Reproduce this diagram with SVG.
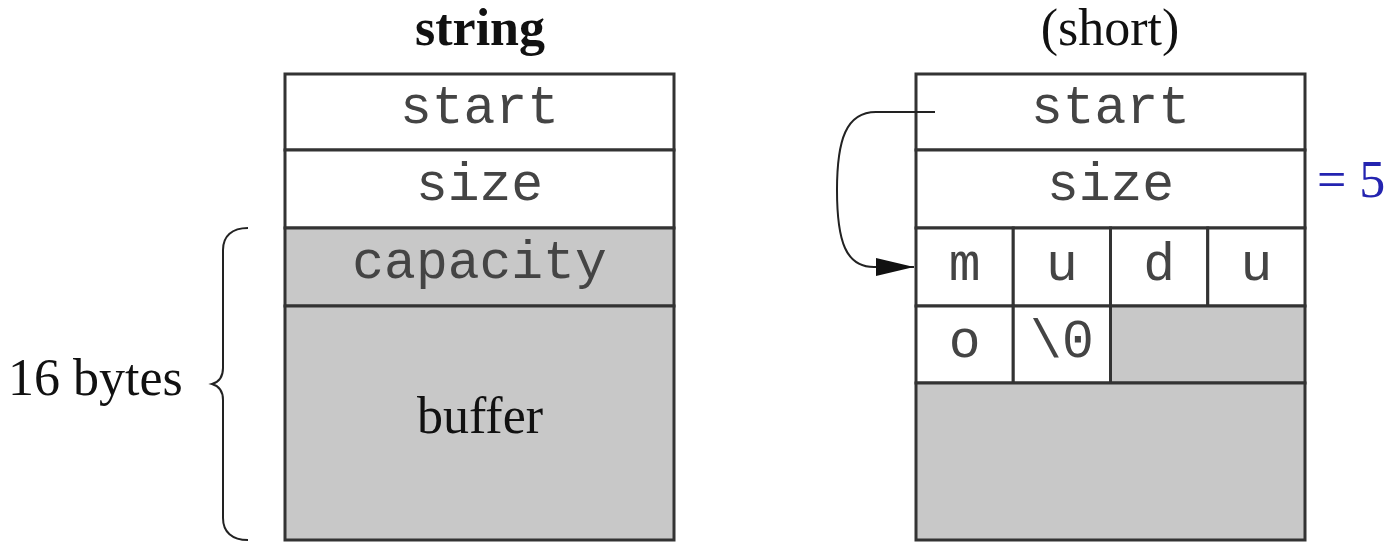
<svg xmlns="http://www.w3.org/2000/svg" width="1394" height="548" viewBox="0 0 1394 548">
<style>
.cell{stroke:#333;stroke-width:3}
.w{fill:#fff}
.g{fill:#c8c8c8}
.mono{font-family:"Liberation Mono","Courier New",monospace;font-size:53px;fill:#444;text-anchor:middle}
.serif{font-family:"Liberation Serif","Times New Roman",serif;font-size:52px;fill:#111}
.conn{fill:none;stroke:#222;stroke-width:2}
</style>
<defs>
<marker id="ah" markerUnits="userSpaceOnUse" markerWidth="40" markerHeight="22" refX="38" refY="11" orient="auto">
<path d="M0,2 L38,11 L0,20 Z" fill="#111"/>
</marker>
</defs>
<rect width="1394" height="548" fill="#fff"/>
<text class="serif" x="480" y="45" text-anchor="middle" font-weight="bold">string</text>
<text class="serif" x="1110" y="45" text-anchor="middle">(short)</text>

<g id="left-string">
<rect class="cell w" x="285" y="74" width="389" height="76"/>
<text class="mono" x="479.5" y="123">start</text>
<rect class="cell w" x="285" y="150" width="389" height="78"/>
<text class="mono" x="479.5" y="200">size</text>
<rect class="cell g" x="285" y="228" width="389" height="78"/>
<text class="mono" x="479.5" y="278">capacity</text>
<rect class="cell g" x="285" y="306" width="389" height="234"/>
<text class="serif" x="480" y="433" text-anchor="middle">buffer</text>
</g>

<g id="brace">
<path class="conn" d="M248,228 C232,228 223,236 223,250 L223,368 C223,377 219,382 212,384 C219,386 223,391 223,400 L223,518 C223,532 232,540 248,540"/>
<text class="serif" x="8" y="395">16 bytes</text>
</g>

<g id="right-short">
<rect class="cell w" x="916" y="74" width="389" height="76"/>
<text class="mono" x="1110.5" y="123">start</text>
<rect class="cell w" x="916" y="150" width="389" height="78"/>
<text class="mono" x="1110.5" y="200">size</text>
<rect class="cell w" x="916" y="228" width="97.25" height="78"/>
<text class="mono" x="964.6" y="280">m</text>
<rect class="cell w" x="1013.25" y="228" width="97.25" height="78"/>
<text class="mono" x="1061.9" y="280">u</text>
<rect class="cell w" x="1110.5" y="228" width="97.25" height="78"/>
<text class="mono" x="1159.1" y="280">d</text>
<rect class="cell w" x="1207.75" y="228" width="97.25" height="78"/>
<text class="mono" x="1256.4" y="280">u</text>
<rect class="cell w" x="916" y="306" width="97.25" height="77"/>
<text class="mono" x="964.6" y="357">o</text>
<rect class="cell w" x="1013.25" y="306" width="97.25" height="77"/>
<text class="mono" x="1061.9" y="357">\0</text>
<rect class="cell g" x="1110.5" y="306" width="194.5" height="77"/>
<rect class="cell g" x="916" y="383" width="389" height="157"/>
<text class="serif" x="1317" y="197" style="fill:#2424b0">= 5</text>
</g>

<g id="connectors">
<path class="conn" marker-end="url(#ah)" d="M935,112 L876,112 C846,112 837,140 837,190 C837,242 846,267 874,267 L914,267"/>
</g>
</svg>
